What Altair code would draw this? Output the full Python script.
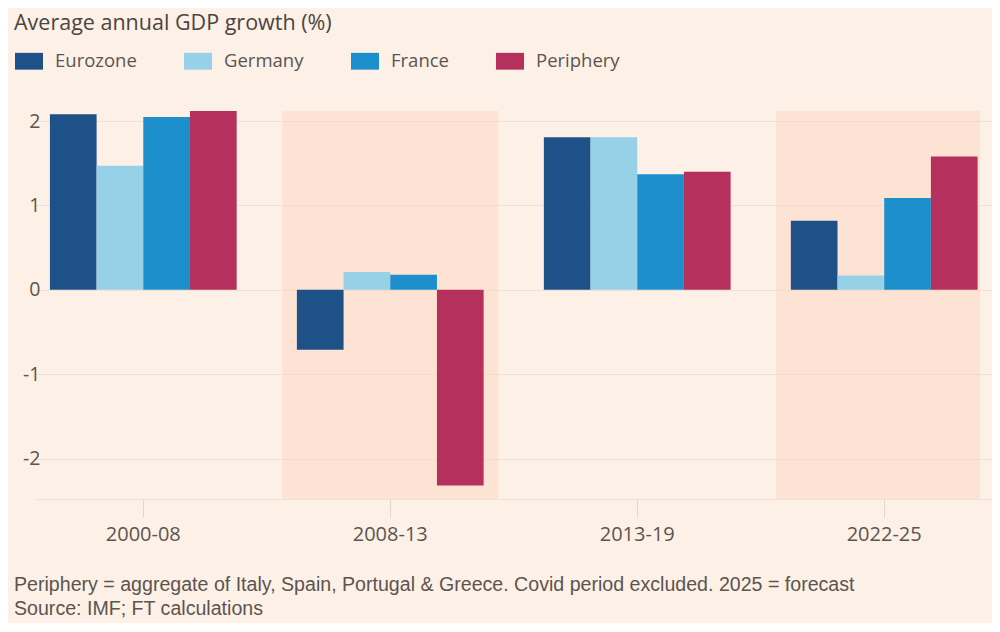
import altair as alt
import pandas as pd

# ---- data ----
periods = ["2000-08", "2008-13", "2013-19", "2022-25"]
series = ["Eurozone", "Germany", "France", "Periphery"]
eurozone = [2.08, -0.71, 1.81, 0.82]
germany = [1.47, 0.21, 1.81, 0.17]
france = [2.05, 0.18, 1.37, 1.09]
periphery = [2.12, -2.32, 1.40, 1.58]
shaded_periods = ["2008-13", "2022-25"]
colors = ["#1f5189", "#96d1e8", "#1e8fcd", "#b5305d"]
y_ticks = [-2, -1, 0, 1, 2]
y_min, y_max = -2.48, 2.12
title_text = "Average annual GDP growth (%)"
footnote_lines = [
    "Periphery = aggregate of Italy, Spain, Portugal & Greece. Covid period excluded. 2025 = forecast",
    "Source: IMF; FT calculations",
]

rows = []
for i, p in enumerate(periods):
    for s, vals in zip(series, [eurozone, germany, france, periphery]):
        rows.append({"period": p, "series": s, "value": vals[i]})
df = pd.DataFrame(rows)

FONT = "Open Sans"
FOOT_FONT = "Liberation Sans"
TXT = "#5b5550"
W, H = 932, 388

x_scale = alt.Scale(domain=periods, range=[-12.7, 944.2], paddingInner=0.1255, paddingOuter=0)
y_scale = alt.Scale(domain=[y_min, y_max], nice=False, zero=False)

x_axis = alt.Axis(
    title=None, labelAngle=0, domain=False, ticks=True, tickSize=18,
    tickColor="#e2d6cb", labelFontSize=20, labelColor=TXT, labelPadding=7,
    labelFont=FONT, grid=False,
)
y_axis = alt.Axis(
    title=None, values=y_ticks + [y_min], domain=False, ticks=False,
    labelExpr="datum.value < -2.3 ? '' : '' + datum.value",
    labelFontSize=19.5, labelColor=TXT, labelPadding=8, labelFont=FONT,
    grid=True, gridColor="#f1e1d4", gridWidth=1,
)

shade = alt.Chart(
    pd.DataFrame({"period": shaded_periods, "value": [y_max] * 2, "bottom": [y_min] * 2})
).mark_rect(color="#fdd6c0", opacity=0.5, clip=True).encode(
    x=alt.X("period:N", scale=x_scale, sort=periods, axis=x_axis),
    y=alt.Y("value:Q", scale=y_scale, axis=y_axis),
    y2="bottom:Q",
)

bars = alt.Chart(df).mark_bar(clip=True).encode(
    x=alt.X("period:N", scale=x_scale, sort=periods, axis=x_axis),
    xOffset=alt.XOffset("series:N", sort=series,
                        scale=alt.Scale(paddingInner=0, paddingOuter=0.313)),
    y=alt.Y("value:Q", scale=y_scale, axis=y_axis),
    color=alt.Color(
        "series:N",
        sort=series,
        scale=alt.Scale(domain=series, range=colors),
        legend=alt.Legend(
            title=None, orient="none", legendX=-33, legendY=-64, direction="horizontal",
            symbolType="M-1,-0.6H1V0.6H-1Z", symbolSize=784, symbolStrokeWidth=0,
            symbolOpacity=1, labelFontSize=18.5, labelColor=TXT, labelFont=FONT,
            labelOffset=12, columnPadding=47,
        ),
    ),
)

foot = alt.Chart(pd.DataFrame({"t": ["\n".join(footnote_lines)]})).mark_text(
    align="left", baseline="top", fontSize=19.6, font=FOOT_FONT, color=TXT,
    lineBreak="\n", lineHeight=24,
).encode(x=alt.value(-34), y=alt.value(465), text="t:N")

chart = alt.layer(shade, bars, foot).properties(
    width=W,
    height=H,
    title=alt.TitleParams(
        title_text, anchor="start", frame="bounds", fontSize=21.5, font=FONT,
        fontWeight="normal", color="#4a4541", offset=13,
    ),
    padding={"left": 40, "top": 103, "right": 12, "bottom": 124},
    autosize=alt.AutoSizeParams(type="none"),
).configure(background="#fdf0e6").configure_view(stroke=None)

chart.save("out.html", embed_options={"renderer": "svg", "actions": False})
